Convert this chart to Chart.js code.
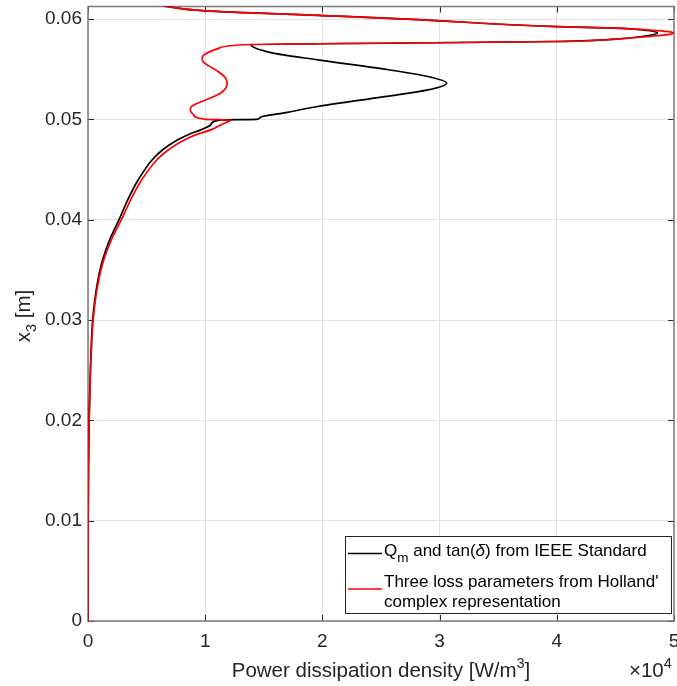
<!DOCTYPE html>
<html>
<head>
<meta charset="utf-8">
<script src="https://cdn.jsdelivr.net/npm/chart.js@4"></script>
<style>
  html, body { margin: 0; padding: 0; background: #fff; }
  canvas { display: block; }
</style>
</head>
<body>
<canvas id="chart" width="677" height="686"></canvas>
<script>
// x3 position [m] and power dissipation density [x1e4 W/m^3]
// Qm and tan(delta) from IEEE Standard
const ieeeY = [0, 0.005, 0.01, 0.015, 0.02, 0.025, 0.028, 0.03, 0.032, 0.034, 0.036, 0.038, 0.04, 0.042, 0.044, 0.046, 0.047, 0.048, 0.0485, 0.049, 0.0495, 0.04995,
  0.05, 0.0502, 0.0507, 0.05128, 0.05227, 0.05294, 0.05361, 0.05427, 0.055, 0.05593, 0.05666, 0.05746,
  0.05761, 0.05776, 0.058, 0.0583, 0.0586, 0.0589, 0.0591, 0.05925, 0.06, 0.06035, 0.06082, 0.0613];
const ieeeP = [0, 0.0005, 0.0015, 0.004, 0.009, 0.02, 0.03, 0.04, 0.058, 0.085, 0.125, 0.185, 0.265, 0.34, 0.43, 0.55, 0.64, 0.77, 0.86, 0.97, 1.05, 1.13,
  1.44, 1.47, 1.7, 1.96, 2.53, 2.9, 3.06, 2.9, 2.53, 1.96, 1.56, 1.39,
  2.7, 4.0, 4.5, 4.75, 4.86, 4.75, 4.5, 4.0, 2.72, 2.0, 1.0, 0.64];

// three loss parameters, Holland's complex representation
const hollandY = [0, 0.005, 0.01, 0.015, 0.02, 0.025, 0.028, 0.03, 0.032, 0.034, 0.036, 0.038, 0.04, 0.042, 0.044, 0.046, 0.047, 0.048, 0.0485, 0.049, 0.0495, 0.04995,
  0.05, 0.05045, 0.05075, 0.05105, 0.05135, 0.05168, 0.05215, 0.05261, 0.05311, 0.05361, 0.0541, 0.05477, 0.05533, 0.05565, 0.05593, 0.0562, 0.05643, 0.0568, 0.0571, 0.05746,
  0.05761, 0.05776, 0.058, 0.05828, 0.05845, 0.0586, 0.05875, 0.0589, 0.0591, 0.05925, 0.06, 0.06035, 0.06082, 0.0613];
const hollandP = [0, 0.0006, 0.0017, 0.0045, 0.01, 0.022, 0.033, 0.044, 0.063, 0.092, 0.135, 0.2, 0.285, 0.365, 0.46, 0.59, 0.69, 0.83, 0.93, 1.06, 1.14, 1.22,
  1.0, 0.902, 0.878, 0.873, 0.89, 0.95, 1.05, 1.13, 1.175, 1.187, 1.175, 1.11, 1.03, 0.99, 0.975, 0.975, 0.99, 1.05, 1.12, 1.39,
  2.7, 4.0, 4.5, 4.8, 4.95, 5.0, 4.95, 4.8, 4.5, 4.0, 2.72, 2.0, 1.0, 0.64];

const xTicks = [0, 1, 2, 3, 4, 5];
const yTicks = [0, 0.01, 0.02, 0.03, 0.04, 0.05, 0.06];

const FONT = '"Liberation Sans", Arial, Helvetica, sans-serif';
const INK = '#262626';

// draw text made of runs (sub/superscripts, italics)
function runs(ctx, parts, x, y, align) {
  const fontOf = p => (p.italic ? 'italic ' : '') + p.size + 'px ' + FONT;
  let w = 0;
  for (const p of parts) { ctx.font = fontOf(p); w += ctx.measureText(p.text).width; }
  let cx = align === 'center' ? x - w / 2 : x;
  for (const p of parts) {
    ctx.font = fontOf(p);
    ctx.fillText(p.text, cx, y + (p.dy || 0));
    cx += ctx.measureText(p.text).width;
  }
}

const legendEntries = [
  { color: '#000000', lineY: 553.5, lines: [
    [{ text: 'Q', size: 17 }, { text: 'm', size: 13.5, dy: 6 }, { text: ' and tan(', size: 17 },
     { text: 'δ', size: 17, italic: true }, { text: ') from IEEE Standard', size: 17 }]
  ], baselines: [556] },
  { color: '#ff0000', lineY: 589, lines: [
    [{ text: 'Three loss parameters from Holland\'', size: 17 }],
    [{ text: 'complex representation', size: 17 }]
  ], baselines: [586.5, 606.5] }
];

const matlabLook = {
  id: 'matlabLook',
  beforeDatasetsDraw(chart) {
    const { ctx, chartArea: a, scales } = chart;
    ctx.save();
    // ticks pointing inwards on all four sides
    ctx.strokeStyle = INK;
    ctx.lineWidth = 1;
    ctx.beginPath();
    xTicks.forEach(v => {
      const px = Math.round(scales.x.getPixelForValue(v)) + 0.5;
      ctx.moveTo(px, a.bottom); ctx.lineTo(px, a.bottom - 6);
      ctx.moveTo(px, a.top); ctx.lineTo(px, a.top + 6);
    });
    yTicks.forEach(v => {
      const py = Math.round(scales.y.getPixelForValue(v)) + 0.5;
      ctx.moveTo(a.left, py); ctx.lineTo(a.left + 6, py);
      ctx.moveTo(a.right, py); ctx.lineTo(a.right - 6, py);
    });
    ctx.stroke();
    // box
    ctx.strokeStyle = '#7a7a7a';
    ctx.lineWidth = 1.5;
    ctx.strokeRect(a.left, a.top, a.right - a.left, a.bottom - a.top);
    ctx.restore();
  },
  afterDraw(chart) {
    const { ctx, chartArea: a } = chart;
    ctx.save();
    ctx.fillStyle = INK;
    ctx.textAlign = 'left';
    ctx.textBaseline = 'alphabetic';

    // x axis title and exponent
    runs(ctx, [{ text: 'Power dissipation density [W/m', size: 20.5 }, { text: '3', size: 14.5, dy: -9 },
      { text: ']', size: 20.5 }], (a.left + a.right) / 2, 677, 'center');
    runs(ctx, [{ text: '×10', size: 20.5 }, { text: '4', size: 14.5, dy: -9 }], 629, 677, 'left');

    // y axis title
    ctx.save();
    ctx.translate(30, 316);
    ctx.rotate(-Math.PI / 2);
    runs(ctx, [{ text: 'x', size: 20.5 }, { text: '3', size: 14.5, dy: 6 }, { text: ' [m]', size: 20.5 }], 0, 0, 'center');
    ctx.restore();

    // legend
    const box = { l: 345, t: 536, r: 671, b: 613 };
    ctx.fillStyle = '#ffffff';
    ctx.fillRect(box.l, box.t, box.r - box.l, box.b - box.t);
    ctx.strokeStyle = INK;
    ctx.lineWidth = 1;
    ctx.strokeRect(box.l + 0.5, box.t + 0.5, box.r - box.l, box.b - box.t);
    legendEntries.forEach(e => {
      ctx.strokeStyle = e.color;
      ctx.lineWidth = 1.6;
      ctx.beginPath();
      ctx.moveTo(348, e.lineY); ctx.lineTo(382, e.lineY);
      ctx.stroke();
      ctx.fillStyle = '#000000';
      e.lines.forEach((ln, i) => runs(ctx, ln, 384, e.baselines[i], 'left'));
    });
    ctx.restore();
  }
};

const toPoints = (ys, ps) => ys.map((y, i) => ({ x: ps[i], y: y }));

new Chart(document.getElementById('chart'), {
  type: 'scatter',
  data: {
    datasets: [{
      label: 'Three loss parameters from Holland\' complex representation',
      data: toPoints(hollandY, hollandP),
      borderColor: '#ff0000',
      borderWidth: 1.7,
      showLine: true,
      pointRadius: 0,
      cubicInterpolationMode: 'monotone',
      order: 0
    }, {
      label: 'Qm and tan(δ) from IEEE Standard',
      data: toPoints(ieeeY, ieeeP),
      borderColor: '#000000',
      borderWidth: 1.7,
      showLine: true,
      pointRadius: 0,
      cubicInterpolationMode: 'monotone',
      order: 1
    }]
  },
  options: {
    indexAxis: 'y',
    responsive: false,
    animation: false,
    layout: { padding: { top: 6.5, right: 3, left: 0, bottom: 0 } },
    plugins: { legend: { display: false }, tooltip: { enabled: false } },
    scales: {
      x: {
        type: 'linear',
        position: 'bottom',
        min: 0,
        max: 5,
        afterBuildTicks: s => { s.ticks = xTicks.map(v => ({ value: v })); },
        afterFit: s => { s.height = 65; s.paddingLeft = 0; s.paddingRight = 0; },
        grid: { color: '#e3e3e3', lineWidth: 1, drawTicks: false },
        border: { display: false },
        ticks: {
          padding: 9,
          color: INK,
          font: { family: FONT, size: 19 },
          maxRotation: 0,
          callback: v => String(v)
        }
      },
      y: {
        type: 'linear',
        position: 'left',
        min: 0,
        max: 0.06125,
        afterBuildTicks: s => { s.ticks = yTicks.map(v => ({ value: v })); },
        afterFit: s => { s.width = 88; s.paddingTop = 0; s.paddingBottom = 0; },
        grid: { color: '#e3e3e3', lineWidth: 1, drawTicks: false },
        border: { display: false },
        ticks: {
          padding: 6,
          color: INK,
          font: { family: FONT, size: 19 },
          callback: v => String(v)
        }
      }
    }
  },
  plugins: [matlabLook]
});
</script>
</body>
</html>
